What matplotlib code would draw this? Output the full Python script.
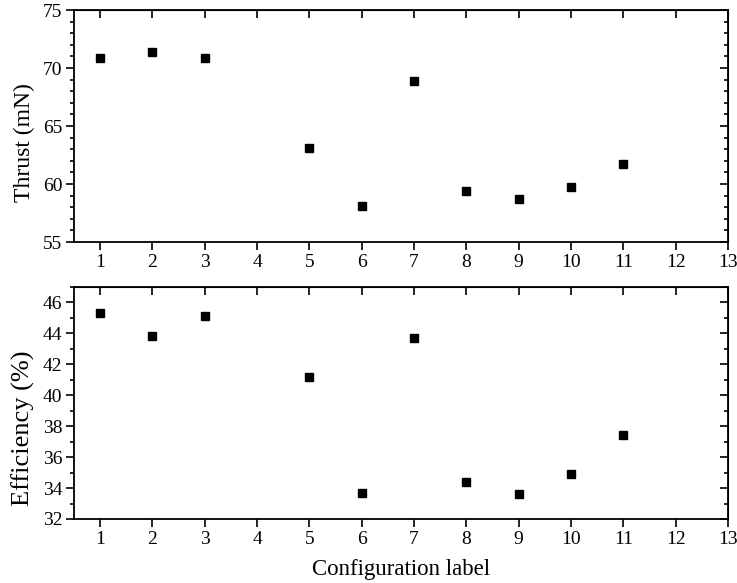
import matplotlib
matplotlib.use("Agg")
import matplotlib.pyplot as plt
from matplotlib.ticker import MultipleLocator

plt.rcParams['font.family'] = ['Liberation Serif', 'DejaVu Serif']
plt.rcParams['mathtext.fontset'] = 'stix'

config = [1, 2, 3, 5, 6, 7, 8, 9, 10, 11]
thrust = [70.9, 71.4, 70.9, 63.1, 58.1, 68.9, 59.4, 58.7, 59.7, 61.7]
efficiency = [45.3, 43.8, 45.1, 41.2, 33.7, 43.7, 34.4, 33.6, 34.9, 37.4]
xticks = list(range(1, 14))

fig = plt.figure(figsize=(7.37, 5.83), dpi=100)
ax1 = fig.add_axes([0.1004, 0.5849, 0.8874, 0.3979])
ax2 = fig.add_axes([0.1004, 0.1098, 0.8874, 0.3979])

def style(ax, ylim, major, minor):
    ax.set_xlim(0.5, 13)
    ax.set_ylim(*ylim)
    ax.set_xticks(xticks)
    ax.yaxis.set_major_locator(MultipleLocator(major))
    ax.yaxis.set_minor_locator(MultipleLocator(minor))
    ax.tick_params(axis='both', which='both', direction='out', labelsize=14,
                   top=False, right=False, width=1.2, pad=2.5)
    ax.tick_params(axis='both', which='major', length=5.8)
    ax.tick_params(axis='y', which='minor', length=3)
    for s in ax.spines.values():
        s.set_linewidth(1.3)
    sec_x = ax.secondary_xaxis('top')
    sec_x.set_xticks(xticks)
    sec_x.tick_params(direction='in', length=5.8, width=1.2, labeltop=False)
    sec_y = ax.secondary_yaxis('right')
    sec_y.yaxis.set_major_locator(MultipleLocator(major))
    sec_y.yaxis.set_minor_locator(MultipleLocator(minor))
    sec_y.tick_params(which='both', direction='in', width=1.2, labelright=False)
    sec_y.tick_params(which='major', length=5.8)
    sec_y.tick_params(which='minor', length=3)

ax1.plot(config, thrust, 's', color='black', markersize=5.8, linestyle='none')
style(ax1, (55, 75), 5, 1)
ax1.set_ylabel('Thrust (mN)', fontsize=17)
ax1.yaxis.set_label_coords(-0.06, 0.43)

ax2.plot(config, efficiency, 's', color='black', markersize=5.8, linestyle='none')
style(ax2, (32, 47), 2, 1)
ax2.set_ylabel('Efficiency (%)', fontsize=19)
ax2.yaxis.set_label_coords(-0.06, 0.39)
ax2.set_xlabel('Configuration label', fontsize=16.5, labelpad=8)

fig.savefig('out.png', dpi=100)
